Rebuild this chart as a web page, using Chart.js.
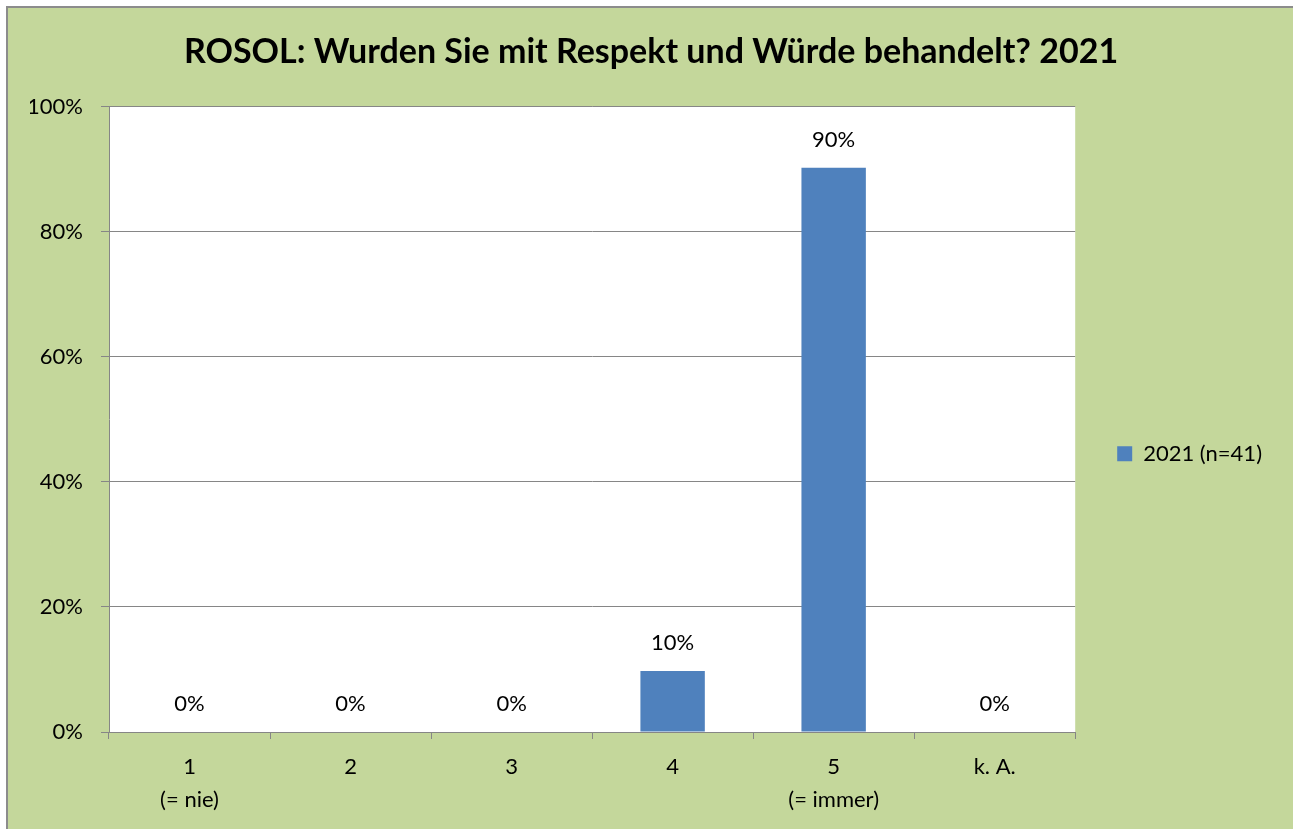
<!DOCTYPE html>
<html>
<head>
<meta charset="utf-8">
<script src="https://cdn.jsdelivr.net/npm/chart.js@4.4.0/dist/chart.umd.min.js"></script>
<style>
  html, body { margin: 0; padding: 0; background: #fff; }
  #wrap { width: 1293px; height: 829px; }
</style>
</head>
<body>
<div id="wrap"><canvas id="myChart" width="1293" height="829"></canvas></div>
<script>
var categories = [['1', '(= nie)'], '2', '3', '4', ['5', '(= immer)'], 'k. A.'];
var values2021 = [0, 0, 0, 9.76, 90.24, 0];
var seriesLabel = '2021 (n=41)';
var yTicks = [0, 20, 40, 60, 80, 100];
var fontFam = 'Lato, "Open Sans", sans-serif';

// green background, outer border, white plot area
var bgPlugin = {
    id: 'bg',
    beforeDraw: function (chart) {
        var ctx = chart.ctx, a = chart.chartArea;
        ctx.save();
        ctx.fillStyle = '#ffffff';
        ctx.fillRect(0, 0, chart.width, chart.height);
        ctx.fillStyle = '#c4d79b';
        ctx.fillRect(7, 7, chart.width - 7, chart.height - 7);
        ctx.strokeStyle = '#8c8c8c';
        ctx.lineWidth = 2;
        ctx.beginPath();
        ctx.moveTo(7, chart.height);
        ctx.lineTo(7, 7);
        ctx.lineTo(chart.width, 7);
        ctx.stroke();
        ctx.fillStyle = '#ffffff';
        ctx.fillRect(a.left, a.top, a.right - a.left, a.bottom - a.top);
        ctx.restore();
    }
};

// value labels above the bars
var valueLabels = {
    id: 'valueLabels',
    afterDatasetsDraw: function (chart) {
        var ctx = chart.ctx;
        var meta = chart.getDatasetMeta(0);
        ctx.save();
        ctx.font = '22px ' + fontFam;
        ctx.fillStyle = '#000';
        ctx.textAlign = 'center';
        ctx.textBaseline = 'middle';
        meta.data.forEach(function (bar, i) {
            var v = chart.data.datasets[0].data[i];
            ctx.fillText(Math.round(v) + '%', bar.x, bar.y - 28);
        });
        ctx.restore();
    }
};

var ctx = document.getElementById('myChart').getContext('2d');
var myChart = new Chart(ctx, {
    type: 'bar',
    data: {
        labels: categories,
        datasets: [{
            label: seriesLabel,
            data: values2021,
            backgroundColor: '#4f81bd',
            borderWidth: 0,
            barPercentage: 0.4,
            categoryPercentage: 1
        }]
    },
    options: {
        responsive: false,
        animation: false,
        layout: { padding: { left: 30, right: 21, top: 0, bottom: 2 } },
        plugins: {
            title: {
                display: true,
                text: 'ROSOL: Wurden Sie mit Respekt und Würde behandelt? 2021',
                color: '#000',
                font: { family: fontFam, size: 34, weight: 'bold' },
                padding: { top: 32, bottom: 34 }
            },
            legend: {
                position: 'right',
                title: {
                    display: true,
                    text: ' ',
                    font: { size: 12 },
                    padding: { top: 0, bottom: 66 }
                },
                labels: {
                    boxWidth: 15,
                    boxHeight: 15,
                    padding: 42,
                    color: '#000',
                    font: { family: fontFam, size: 22 }
                }
            },
            tooltip: { enabled: false }
        },
        scales: {
            x: {
                grid: {
                    offset: true,
                    drawOnChartArea: false,
                    drawTicks: true,
                    tickLength: 7,
                    color: '#868686'
                },
                border: { color: '#868686' },
                ticks: {
                    color: '#000',
                    padding: 11,
                    maxRotation: 0,
                    font: { family: fontFam, size: 22, lineHeight: 1.5 }
                }
            },
            y: {
                min: 0,
                max: 100,
                afterFit: function (scale) { scale.width = 79; },
                afterBuildTicks: function (scale) {
                    scale.ticks = yTicks.map(function (v) { return { value: v }; });
                },
                grid: { color: '#868686', tickLength: 8 },
                border: { color: '#868686' },
                ticks: {
                    color: '#000',
                    padding: 18,
                    font: { family: fontFam, size: 22 },
                    callback: function (v) { return v + '%'; }
                }
            }
        }
    },
    plugins: [bgPlugin, valueLabels]
});
</script>
</body>
</html>
